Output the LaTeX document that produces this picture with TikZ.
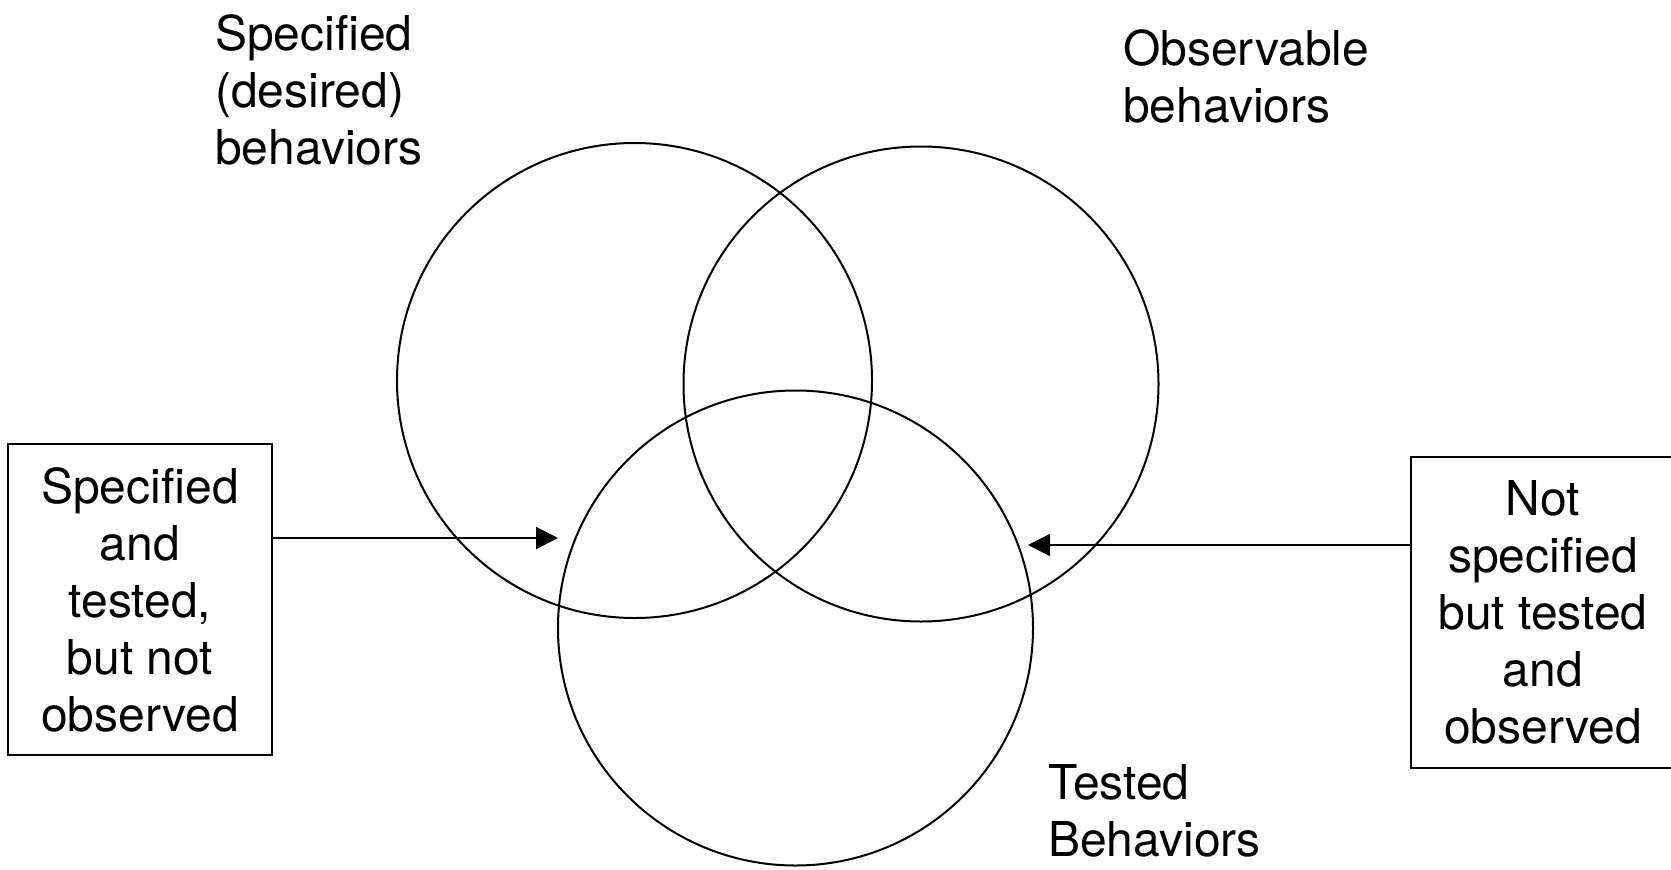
\documentclass[tikz,border=0pt]{standalone}
\usepackage{fontspec}
\setmainfont{TeX Gyre Heros}
\usetikzlibrary{arrows.meta}
\begin{document}
\begin{tikzpicture}[x=1pt,y=-1pt,
  lbl/.style={inner sep=0pt,font=\fontsize{48}{57}\selectfont,align=left},
  boxlbl/.style={draw,line width=2pt,inner sep=0pt,font=\fontsize{48}{57}\selectfont,align=center},
  venn/.style={draw,circle,line width=2pt,minimum size=475pt,inner sep=0pt},
  conn/.style={line width=2pt,-{Triangle[length=22pt,width=22pt]}}]
\useasboundingbox (0,0) rectangle (1671,870);
\node[venn] (spec) at (634.5,380.5) {};
\node[venn] (obs) at (921,384) {};
\node[venn] (test) at (795.5,628) {};
\node[lbl,anchor=base west] (tspec) at (215,164) {Specified\\(desired)\\behaviors};
\node[lbl,anchor=base west] (tobs) at (1123,122) {Observable\\behaviors};
\node[lbl,anchor=base west] (ttest) at (1048,856) {Tested\\Behaviors};
\node[boxlbl,minimum width=264pt,minimum height=311pt] (lbox) at (140,599.5) {Specified\\and\\tested,\\but not\\observed};
\node[boxlbl,minimum width=264pt,minimum height=311pt] (rbox) at (1543,612.5) {Not\\specified\\but tested\\and\\observed};
\coordinate (tipL) at (558,538);
\coordinate (tipR) at (1028,545);
\draw[conn] (lbox.east |- tipL) -- (tipL);
\draw[conn] (rbox.west |- tipR) -- (tipR);
\end{tikzpicture}
\end{document}
